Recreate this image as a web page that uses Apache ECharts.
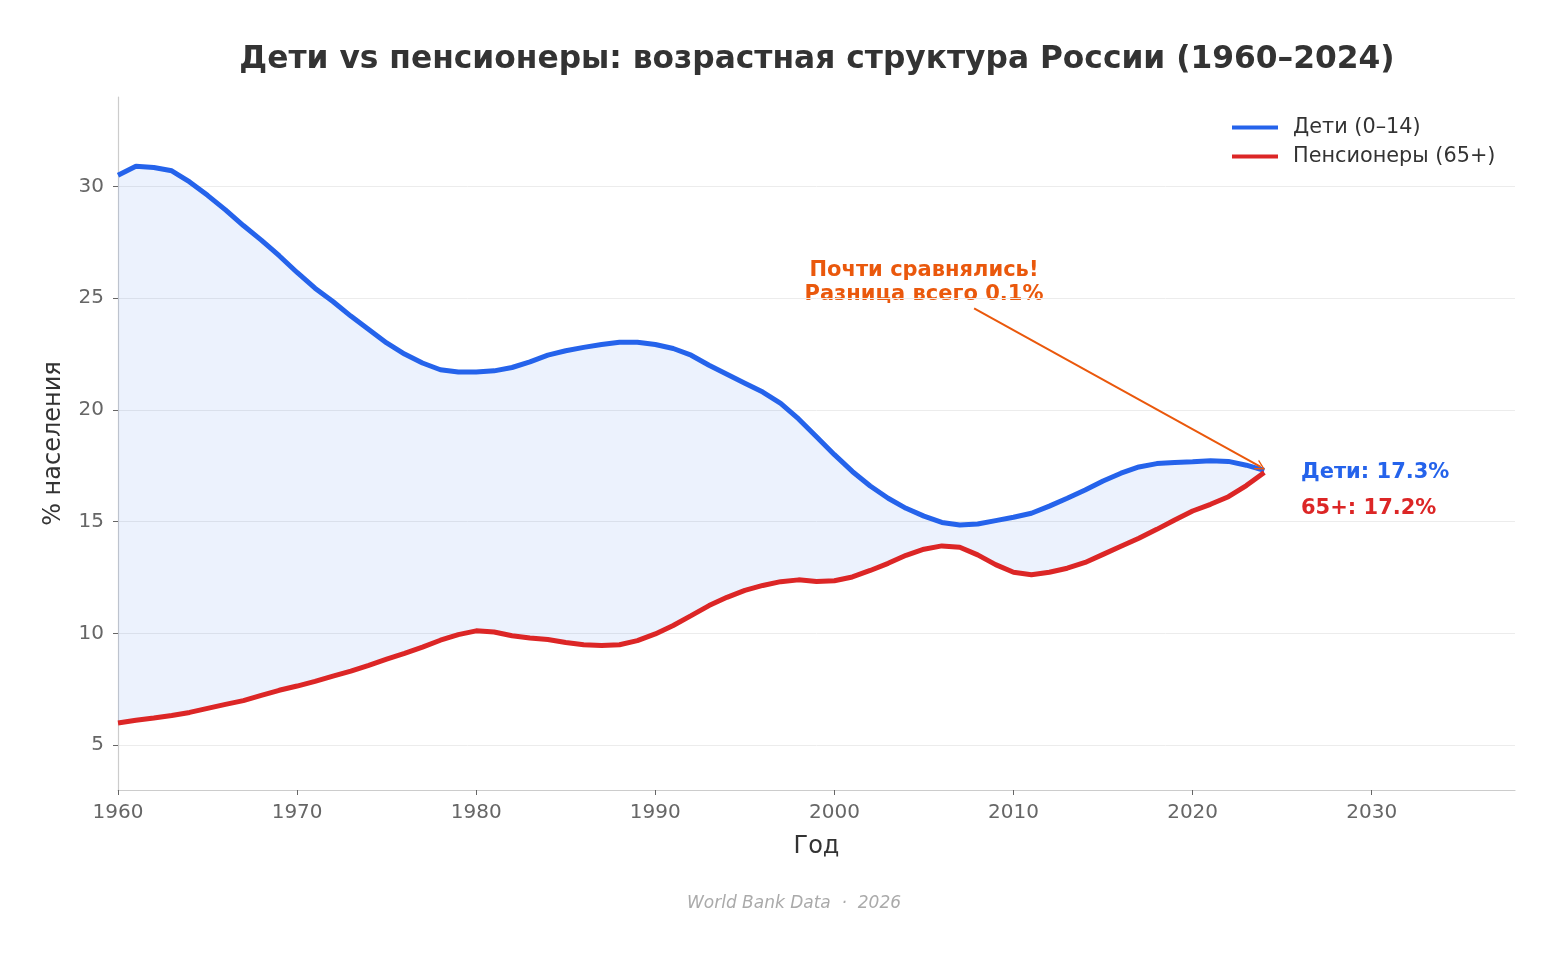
<!DOCTYPE html>
<html>
<head>
<meta charset="utf-8">
<script src="https://cdn.jsdelivr.net/npm/echarts@6/dist/echarts.min.js"></script>
<style>
  html, body { margin: 0; padding: 0; background: #fff; }
  #chart { width: 1560px; height: 956px; }
</style>
</head>
<body>
<div id="chart"></div>
<script>
const years = [];
for (let y = 1960; y <= 2024; y++) years.push(y);

// доля детей 0–14, %
const children = [
  30.5, 30.9, 30.85, 30.7, 30.2, 29.6, 28.95, 28.25, 27.6, 26.9,
  26.15, 25.45, 24.85, 24.2, 23.6, 23.0, 22.5, 22.1, 21.8, 21.7,
  21.7, 21.75, 21.9, 22.15, 22.45, 22.65, 22.8, 22.93, 23.03, 23.03,
  22.93, 22.75, 22.45, 22.0, 21.6, 21.2, 20.8, 20.3, 19.6, 18.8,
  18.0, 17.25, 16.6, 16.05, 15.6, 15.25, 14.97, 14.85, 14.9, 15.05,
  15.2, 15.38, 15.7, 16.05, 16.42, 16.82, 17.17, 17.45, 17.6, 17.65,
  17.68, 17.73, 17.7, 17.53, 17.3
];

// доля пенсионеров 65+, %
const seniors = [
  6.0, 6.12, 6.22, 6.33, 6.47, 6.65, 6.83, 7.0, 7.23, 7.46,
  7.65, 7.86, 8.09, 8.32, 8.58, 8.85, 9.11, 9.39, 9.7, 9.95,
  10.12, 10.07, 9.9, 9.8, 9.73, 9.6, 9.5, 9.46, 9.5, 9.68,
  9.98, 10.36, 10.8, 11.25, 11.62, 11.93, 12.15, 12.32, 12.4, 12.33,
  12.36, 12.53, 12.82, 13.14, 13.5, 13.77, 13.92, 13.86, 13.52, 13.08,
  12.74, 12.63, 12.74, 12.92, 13.18, 13.54, 13.9, 14.26, 14.66, 15.08,
  15.48, 15.78, 16.12, 16.62, 17.2
];

const xTicks = [1960, 1970, 1980, 1990, 2000, 2010, 2020, 2030];
const yTicks = [5, 10, 15, 20, 25, 30];

const BLUE = "#2563eb";
const RED = "#dc2626";
const ORANGE = "#ea580c";
const FONT = "DejaVu Sans";

const pairs = (ys) => years.map((y, i) => [y, ys[i]]);
const bandRows = years.map((y, i) => [y, seniors[i], children[i]]);

// заливка между двумя линиями
const renderBand = (params, api) => {
  if (params.dataIndex !== 0) return;
  const top = bandRows.map((r) => api.coord([r[0], r[2]]));
  const bottom = bandRows.map((r) => api.coord([r[0], r[1]])).reverse();
  return {
    type: "polygon",
    shape: { points: top.concat(bottom) },
    style: { fill: BLUE, opacity: 0.085 },
    silent: true,
  };
};

const chart = echarts.init(document.getElementById("chart"));

chart.setOption({
  animation: false,
  textStyle: { fontFamily: FONT },
  title: {
    text: "Дети vs пенсионеры: возрастная структура России (1960–2024)",
    left: 812,
    textAlign: "center",
    top: 39,
    textStyle: { fontSize: 31.3, fontWeight: "bold", color: "#333", fontFamily: FONT },
  },
  grid: { left: 118, right: 45, top: 97, bottom: 166, containLabel: false },
  legend: {
    data: ["Дети (0–14)", "Пенсионеры (65+)"],
    orient: "vertical",
    left: 1227,
    top: 112,
    icon: "rect",
    itemWidth: 46,
    itemHeight: 4,
    itemGap: 8,
    textStyle: { fontSize: 20.8, color: "#333", fontFamily: FONT, padding: [0, 0, 0, 10] },
  },
  xAxis: {
    type: "value",
    min: 1960,
    max: 2038,
    interval: 10,
    name: "Год",
    nameLocation: "middle",
    nameGap: 45,
    nameTextStyle: { fontSize: 24, color: "#333", fontFamily: FONT },
    axisLine: { show: true, lineStyle: { color: "#cccccc", width: 1.2 } },
    axisTick: { show: true, length: 5, lineStyle: { color: "#666" }, customValues: xTicks },
    axisLabel: {
      fontSize: 20, color: "#666", margin: 13, customValues: xTicks,
      formatter: (v) => String(v),
    },
    splitLine: { show: false },
  },
  yAxis: {
    type: "value",
    min: 3,
    max: 34,
    name: "% населения",
    nameLocation: "middle",
    nameGap: 52,
    nameTextStyle: { fontSize: 24, color: "#333", fontFamily: FONT },
    axisLine: { show: true, lineStyle: { color: "#cccccc", width: 1.2 } },
    axisTick: { show: true, length: 5, lineStyle: { color: "#666" }, customValues: yTicks },
    axisLabel: { fontSize: 20, color: "#666", margin: 14, customValues: yTicks },
    splitLine: { show: true, lineStyle: { color: "#ececec", width: 1 } },
  },
  series: [
    {
      name: "band",
      type: "custom",
      renderItem: renderBand,
      data: bandRows,
      encode: { x: 0, y: [1, 2] },
      silent: true,
      z: 1,
    },
    {
      name: "Дети (0–14)",
      type: "line",
      data: pairs(children),
      symbol: "none",
      color: BLUE,
      lineStyle: { color: BLUE, width: 5 },
      z: 3,
    },
    {
      name: "Пенсионеры (65+)",
      type: "line",
      data: pairs(seniors),
      symbol: "none",
      color: RED,
      lineStyle: { color: RED, width: 5 },
      z: 3,
      markLine: {
        silent: true,
        symbol: ["none", "path://M5,0 L10,9 L8.6,9 L5,2.6 L1.4,9 L0,9 Z"],
        symbolSize: [11, 10],
        label: { show: false },
        lineStyle: { color: ORANGE, width: 2, type: "solid" },
        data: [[{ coord: [2007.8, 24.55] }, { coord: [2023.8, 17.45] }]],
      },
    },
  ],
  graphic: [
    {
      type: "text",
      x: 924,
      y: 259,
      style: {
        text: "Почти сравнялись!\nРазница всего 0.1%",
        align: "center",
        fill: ORANGE,
        font: "bold 21px 'DejaVu Sans'",
        lineHeight: 23.5,
      },
    },
    {
      type: "text",
      x: 1301,
      y: 462,
      style: { text: "Дети: 17.3%", fill: BLUE, font: "bold 21px 'DejaVu Sans'" },
    },
    {
      type: "text",
      x: 1301,
      y: 498,
      style: { text: "65+: 17.2%", fill: RED, font: "bold 21px 'DejaVu Sans'" },
    },
    {
      type: "text",
      x: 794,
      y: 895,
      style: {
        text: "World Bank Data  ·  2026",
        align: "center",
        fill: "#aaaaaa",
        font: "italic 17px 'DejaVu Sans'",
      },
    },
  ],
});
</script>
</body>
</html>
